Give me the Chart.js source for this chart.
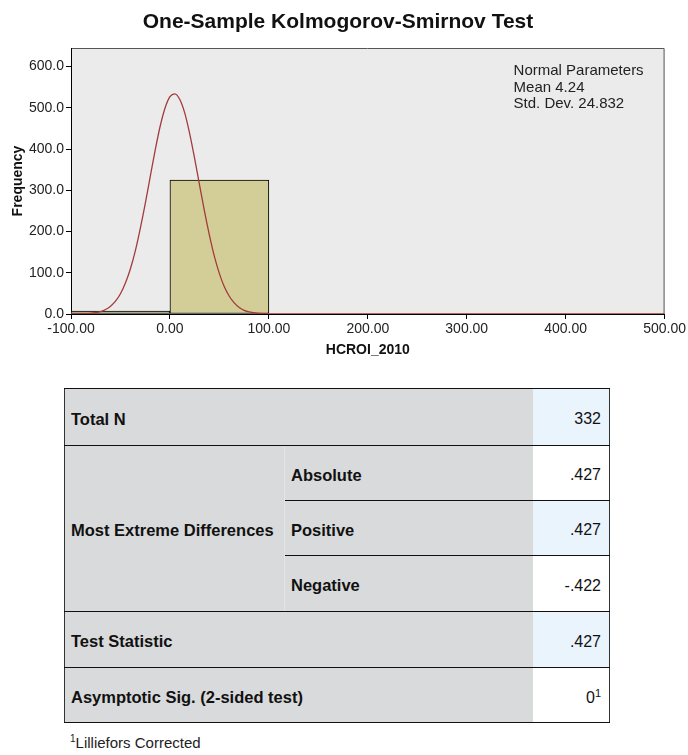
<!DOCTYPE html>
<html lang="en">
<head>
    <meta charset="UTF-8">
    <title>One-Sample Kolmogorov-Smirnov Test</title>
    <script src="https://cdn.jsdelivr.net/npm/chart.js"></script>
    <style>
        body {
            margin: 0;
            background: #fff;
            font-family: "Liberation Sans", Arial, sans-serif;
        }
        #chartBox {
            position: absolute;
            left: 0;
            top: 0;
            width: 688px;
            height: 365px;
        }
        table.ks {
            position: absolute;
            left: 64px;
            top: 388px;
            width: 545px;
            table-layout: fixed;
            border-collapse: collapse;
            border: 1px solid #333;
            font-size: 16.5px;
            color: #111;
        }
        table.ks td {
            padding: 4px 6px 0 6px;
            border-top: 1px solid #111;
            border-bottom: 1px solid #111;
            background: #d9dadb;
            font-weight: bold;
            white-space: nowrap;
            overflow: visible;
        }
        table.ks td.val {
            text-align: right;
            font-weight: normal;
            font-size: 16px;
            padding-right: 8px;
            background: #fff;
        }
        table.ks td.blue { background: #eaf4fd; }
        table.ks td.group { border-right: 1px solid #e4e4e4; padding-right: 0; }
        table.ks sup { font-size: 11px; }
        .note {
            position: absolute;
            left: 70px;
            top: 733px;
            font-size: 15px;
            color: #222;
        }
        .note sup { font-size: 10px; }
    </style>
</head>
<body>

    <div id="chartBox"><canvas id="ksChart" width="688" height="365"></canvas></div>

    <table class="ks">
        <colgroup><col style="width:220px"><col style="width:248px"><col style="width:77px"></colgroup>
        <tr style="height:57px"><td colspan="2">Total N</td><td class="val blue">332</td></tr>
        <tr style="height:55px"><td rowspan="3" class="group">Most Extreme Differences</td><td>Absolute</td><td class="val">.427</td></tr>
        <tr style="height:55px"><td>Positive</td><td class="val blue">.427</td></tr>
        <tr style="height:56px"><td>Negative</td><td class="val">-.422</td></tr>
        <tr style="height:56px"><td colspan="2">Test Statistic</td><td class="val blue">.427</td></tr>
        <tr style="height:55px"><td colspan="2">Asymptotic Sig. (2-sided test)</td><td class="val">0<sup>1</sup></td></tr>
    </table>
    <div class="note"><sup>1</sup>Lilliefors Corrected</div>

    <script>
        // histogram bins (width 100)
        const binCenters = [-50, 50, 150, 250, 350, 450];
        const binCounts = [7, 325, 0, 0, 0, 0];

        // normal curve
        const curveX = [-100, -90, -80, -75, -70, -65, -60, -55, -50, -45, -40, -35, -30, -25, -20, -15, -10, -5, 0, 5,
                        10, 15, 20, 25, 30, 35, 40, 45, 50, 55, 60, 65, 70, 75, 80, 90, 100, 200, 300, 400, 500];
        const curveY = [0, 0.5, 1.7, 3.3, 6, 11, 19, 31, 49, 75, 109, 153, 207, 267, 332, 396, 454, 499, 527, 534,
                        520, 487, 437, 377, 312, 248, 190, 139, 98, 66, 43, 27, 16, 9, 5, 1.4, 0.3, 0, 0, 0, 0];

        const normalParams = ['Normal Parameters', 'Mean 4.24', 'Std. Dev. 24.832'];

        const fontName = '"Liberation Sans", Arial, sans-serif';

        const decor = {
            id: 'decor',
            beforeDraw(chart) {
                const {ctx, chartArea: a} = chart;
                ctx.save();
                ctx.fillStyle = '#ebebeb';
                ctx.fillRect(a.left, a.top, a.right - a.left, a.bottom - a.top);
                ctx.strokeStyle = '#555';
                ctx.lineWidth = 1;
                ctx.beginPath();
                ctx.moveTo(a.left, a.top + 0.5);
                ctx.lineTo(a.right - 0.5, a.top + 0.5);
                ctx.lineTo(a.right - 0.5, a.bottom);
                ctx.stroke();
                ctx.restore();
            },
            afterDraw(chart) {
                const {ctx, chartArea: a} = chart;
                ctx.save();
                ctx.fillStyle = '#111';
                ctx.font = 'bold 21px ' + fontName;
                ctx.textAlign = 'center';
                ctx.textBaseline = 'alphabetic';
                ctx.fillText('One-Sample Kolmogorov-Smirnov Test', 338, 28);

                ctx.fillStyle = '#222';
                ctx.font = '15px ' + fontName;
                ctx.textAlign = 'left';
                normalParams.forEach((t, i) => {
                    ctx.fillText(t, a.right - 151, 75 + i * 16.5);
                });
                ctx.restore();
            }
        };

        const ctx = document.getElementById('ksChart').getContext('2d');
        new Chart(ctx, {
            type: 'bar',
            data: {
                datasets: [{
                    type: 'line',
                    data: curveX.map((x, i) => ({x: x, y: curveY[i]})),
                    borderColor: '#a33b3b',
                    borderWidth: 1.3,
                    pointRadius: 0,
                    cubicInterpolationMode: 'monotone',
                    order: 0
                }, {
                    data: binCenters.map((x, i) => ({x: x, y: binCounts[i]})),
                    backgroundColor: '#d3ce98',
                    borderColor: '#000',
                    borderWidth: binCounts.map(v => v > 0 ? 1 : 0),
                    borderSkipped: false,
                    barPercentage: 1,
                    categoryPercentage: 1,
                    order: 1
                }]
            },
            options: {
                responsive: false,
                animation: false,
                devicePixelRatio: 1,
                layout: { padding: { top: 48, right: 21, left: 0, bottom: 0 } },
                plugins: {
                    legend: { display: false },
                    tooltip: { enabled: false }
                },
                scales: {
                    x: {
                        type: 'linear',
                        min: -100,
                        max: 500,
                        offset: false,
                        grid: { drawOnChartArea: false, color: '#000', tickLength: 5, offset: false },
                        border: { color: '#000' },
                        ticks: {
                            stepSize: 100,
                            color: '#222',
                            font: { size: 14, family: fontName },
                            padding: 2,
                            maxRotation: 0,
                            callback: v => v.toFixed(2)
                        },
                        title: {
                            display: true,
                            text: 'HCROI_2010',
                            color: '#111',
                            font: { size: 14, weight: 'bold', family: fontName },
                            padding: { top: 0, bottom: 6 }
                        },
                        afterFit: s => { s.height = 51; }
                    },
                    y: {
                        min: 0,
                        max: 645,
                        grid: { drawOnChartArea: false, color: '#000', tickLength: 5 },
                        border: { color: '#000' },
                        ticks: {
                            stepSize: 100,
                            includeBounds: false,
                            color: '#222',
                            font: { size: 14, family: fontName },
                            padding: 2,
                            callback: v => v.toFixed(1)
                        },
                        title: {
                            display: true,
                            text: 'Frequency',
                            color: '#111',
                            font: { size: 14, weight: 'bold', family: fontName },
                            padding: { top: 10, bottom: 0 }
                        },
                        afterFit: s => { s.width = 71; }
                    }
                }
            },
            plugins: [decor]
        });
    </script>

</body>
</html>
